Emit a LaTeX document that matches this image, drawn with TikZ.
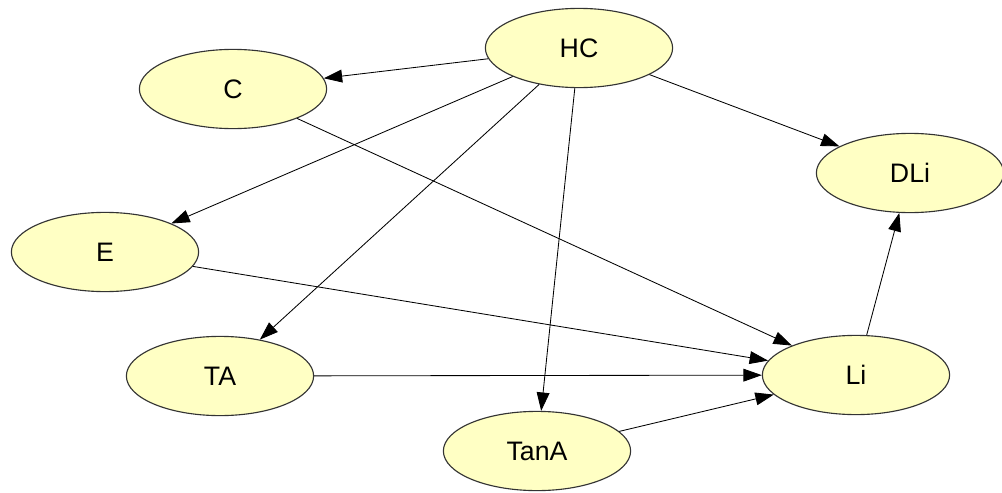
\documentclass[tikz,border=0pt]{standalone}
\usepackage{fontspec}
\setmainfont{Liberation Sans}
\usetikzlibrary{arrows.meta,shapes.geometric}
\definecolor{nodefill}{HTML}{FFFFC4}
\definecolor{nodeline}{HTML}{333333}

\begin{document}
\begin{tikzpicture}[x=0.025cm,y=-0.025cm,
  var/.style={ellipse,draw=nodeline,fill=nodefill,line width=0.8pt,inner sep=0pt,
    minimum width=4.68cm,minimum height=1.98cm,font=\fontsize{19}{22}\selectfont},
  link/.style={-{Triangle[length=4.6mm,width=3.2mm]},line width=0.6pt}]
\useasboundingbox (0,0) rectangle (1002,493);
\node[var] (hc) at (579,48) {HC};
\node[var] (c) at (233,89) {C};
\node[var] (dli) at (910,173) {DLi};
\node[var] (e) at (105,252) {E};
\node[var] (ta) at (220,376) {TA};
\node[var] (li) at (856,375) {Li};
\node[var] (tana) at (537,451) {TanA};
\draw[link] (hc) -- (c);
\draw[link] (hc) -- (dli);
\draw[link] (hc) -- (e);
\draw[link] (hc) -- (ta);
\draw[link] (hc) -- (tana);
\foreach \src in {c,e,ta,tana}
  {\draw[link] (\src) -- (li);}
\draw[link] (li) -- (dli);
\end{tikzpicture}
\end{document}
